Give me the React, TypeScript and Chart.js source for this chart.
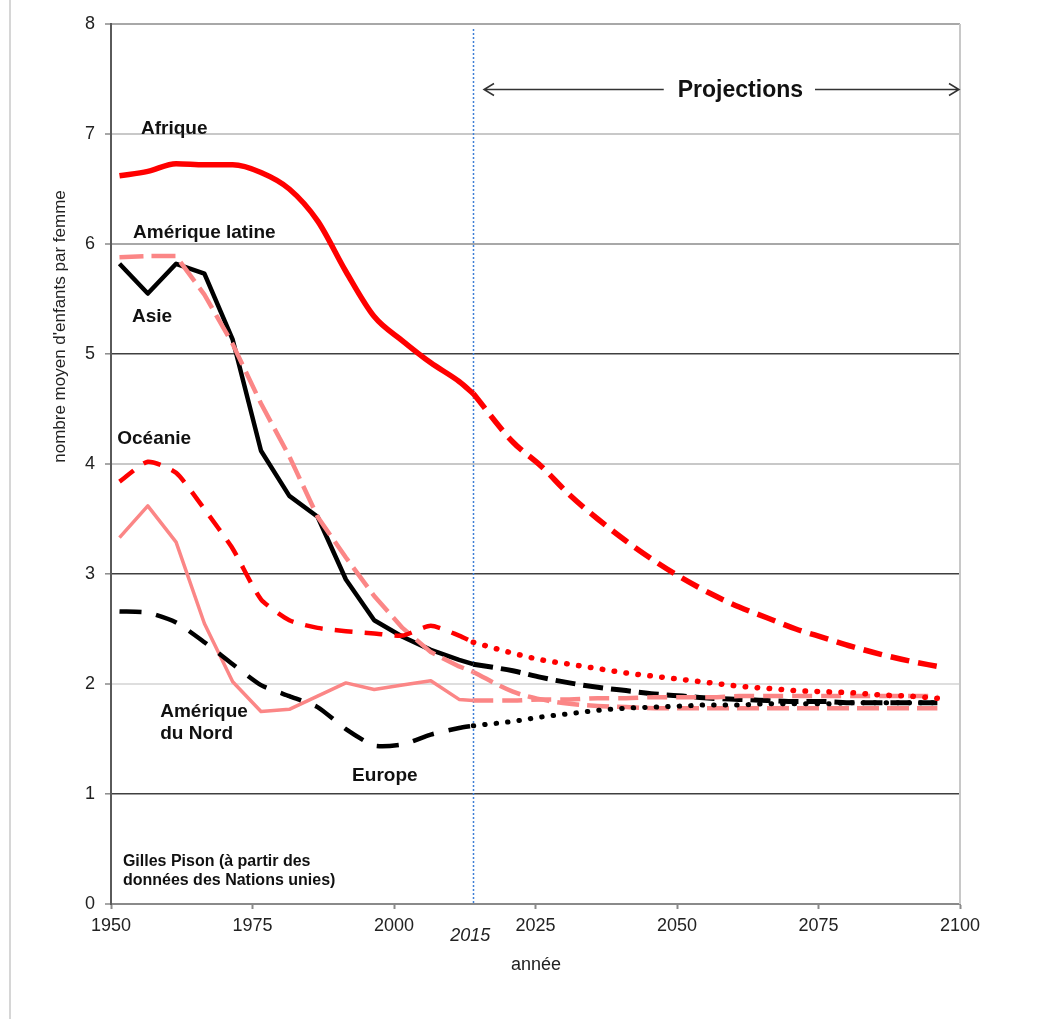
import React, { useEffect, useRef } from "react";
import { Chart, registerables } from "chart.js";

Chart.register(...registerables);

// ---- Data (total fertility rate, children per woman) ----
const histYears = [1951.5, 1956.5, 1961.5, 1966.5, 1971.5, 1976.5, 1981.5, 1986.5, 1991.5, 1996.5, 2001.5, 2006.5, 2011.5, 2014];
const projYears = [2014, 2021, 2026, 2031, 2036, 2041, 2046, 2051, 2056, 2061, 2066, 2071, 2076, 2081, 2086, 2091, 2096];

const afriqueHist = [6.62, 6.66, 6.73, 6.72, 6.72, 6.65, 6.5, 6.21, 5.75, 5.34, 5.12, 4.92, 4.75, 4.64];
const afriqueProj = [4.64, 4.2, 3.98, 3.72, 3.5, 3.3, 3.12, 2.96, 2.82, 2.7, 2.6, 2.5, 2.42, 2.34, 2.27, 2.21, 2.16];

const latamHist = [5.88, 5.89, 5.89, 5.54, 5.09, 4.55, 4.07, 3.52, 3.15, 2.8, 2.51, 2.29, 2.16, 2.11];
const latamProj = [2.11, 1.93, 1.86, 1.82, 1.8, 1.79, 1.78, 1.78, 1.78, 1.78, 1.78, 1.78, 1.78, 1.78, 1.78, 1.78, 1.78];

const asieHist = [5.82, 5.55, 5.82, 5.73, 5.13, 4.12, 3.71, 3.52, 2.95, 2.58, 2.43, 2.31, 2.22, 2.18];
const asieProj = [2.18, 2.12, 2.06, 2.01, 1.97, 1.94, 1.91, 1.89, 1.87, 1.86, 1.85, 1.84, 1.84, 1.83, 1.83, 1.83, 1.83];

const oceanieHist = [3.84, 4.02, 3.92, 3.59, 3.23, 2.77, 2.58, 2.51, 2.48, 2.46, 2.44, 2.53, 2.44, 2.38];
const oceanieProj = [2.38, 2.28, 2.22, 2.18, 2.14, 2.1, 2.07, 2.04, 2.01, 1.98, 1.96, 1.94, 1.93, 1.92, 1.9, 1.89, 1.87];

const nordHist = [3.33, 3.62, 3.29, 2.55, 2.02, 1.75, 1.77, 1.89, 2.01, 1.95, 1.99, 2.03, 1.86, 1.85];
const nordProj = [1.85, 1.85, 1.86, 1.86, 1.87, 1.87, 1.88, 1.88, 1.88, 1.89, 1.89, 1.89, 1.89, 1.89, 1.89, 1.89, 1.89];

const europeHist = [2.66, 2.65, 2.56, 2.38, 2.18, 1.99, 1.89, 1.79, 1.59, 1.44, 1.45, 1.54, 1.6, 1.62];
const europeProj = [1.62, 1.66, 1.7, 1.73, 1.76, 1.78, 1.79, 1.8, 1.81, 1.81, 1.82, 1.82, 1.82, 1.83, 1.83, 1.83, 1.83];

const xTickYears = [1950, 1975, 2000, 2025, 2050, 2075, 2100];
const yTickValues = [0, 1, 2, 3, 4, 5, 6, 7, 8];
const dividerYear = 2014;
const dividerLabel = "2015";

// ---- Text annotations (placed in data coordinates) ----
const regionLabels = [
  { text: "Afrique", x: 1955.3, y: 7.05 },
  { text: "Amérique latine", x: 1953.9, y: 6.1 },
  { text: "Asie", x: 1953.7, y: 5.34 },
  { text: "Océanie", x: 1951.1, y: 4.23 },
  { text: "Amérique", x: 1958.7, y: 1.75 },
  { text: "du Nord", x: 1958.7, y: 1.55 },
  { text: "Europe", x: 1992.6, y: 1.17 },
];
const sourceLines = ["Gilles Pison (à partir des", "données des Nations unies)"];

const FONT = "'Liberation Sans', Arial, Helvetica, sans-serif";
const RED = "#ff0000";
const PINK = "#fb8686";
const BLACK = "#000000";

const pts = (xs: number[], ys: number[]) => xs.map((x, i) => ({ x, y: ys[i] }));

export default function App() {
  const ref = useRef<HTMLCanvasElement>(null);

  useEffect(() => {
    if (!ref.current) return;

    const overlay = {
      id: "overlay",
      beforeDatasetsDraw(chart: any) {
        const { ctx, chartArea: a, scales } = chart;
        const xs = scales.x;
        ctx.save();
        // right border of plot area
        ctx.strokeStyle = "#c8c8c8";
        ctx.lineWidth = 2;
        ctx.beginPath();
        ctx.moveTo(a.right, a.top);
        ctx.lineTo(a.right, a.bottom);
        ctx.stroke();
        // 2015 divider (blue dotted)
        const px = Math.round(xs.getPixelForValue(dividerYear)) + 0.5;
        ctx.strokeStyle = "#3f7fd6";
        ctx.lineWidth = 1.5;
        ctx.setLineDash([2, 2]);
        ctx.beginPath();
        ctx.moveTo(px, a.top + 5);
        ctx.lineTo(px, a.bottom);
        ctx.stroke();
        ctx.restore();
      },
      afterDraw(chart: any) {
        const { ctx, chartArea: a, scales } = chart;
        const xs = scales.x;
        const ys = scales.y;
        ctx.save();
        ctx.fillStyle = "#111";
        ctx.textBaseline = "middle";

        // region labels
        ctx.font = `bold 19px ${FONT}`;
        ctx.textAlign = "left";
        regionLabels.forEach((l) => {
          ctx.fillText(l.text, xs.getPixelForValue(l.x), ys.getPixelForValue(l.y));
        });

        // source
        ctx.font = `bold 16px ${FONT}`;
        ctx.fillText(sourceLines[0], xs.getPixelForValue(1952.1), ys.getPixelForValue(0.385));
        ctx.fillText(sourceLines[1], xs.getPixelForValue(1952.1), ys.getPixelForValue(0.215));

        // Projections arrow
        const py = Math.round(ys.getPixelForValue(7.405)) + 0.5;
        const cx = xs.getPixelForValue(2061.2);
        ctx.font = `bold 23px ${FONT}`;
        ctx.textAlign = "center";
        const w = ctx.measureText("Projections").width;
        ctx.fillText("Projections", cx, py + 1);
        const lx = xs.getPixelForValue(2015.9);
        const rx = xs.getPixelForValue(2100) - 1;
        ctx.strokeStyle = "#333";
        ctx.lineWidth = 1.5;
        ctx.beginPath();
        ctx.moveTo(lx, py);
        ctx.lineTo(cx - w / 2 - 14, py);
        ctx.moveTo(cx + w / 2 + 12, py);
        ctx.lineTo(rx, py);
        ctx.moveTo(lx + 10, py - 6);
        ctx.lineTo(lx, py);
        ctx.lineTo(lx + 10, py + 6);
        ctx.moveTo(rx - 10, py - 6);
        ctx.lineTo(rx, py);
        ctx.lineTo(rx - 10, py + 6);
        ctx.stroke();

        // 2015 label (italic)
        ctx.fillStyle = "#222";
        ctx.font = `italic 18px ${FONT}`;
        ctx.textAlign = "center";
        ctx.fillText(dividerLabel, xs.getPixelForValue(dividerYear) - 3, a.bottom + 32);

        // x title
        ctx.font = `18px ${FONT}`;
        ctx.fillText("année", xs.getPixelForValue(2025.1), a.bottom + 61);

        // y title
        ctx.save();
        ctx.translate(a.left - 51, ys.getPixelForValue(5.25));
        ctx.rotate(-Math.PI / 2);
        ctx.font = `17px ${FONT}`;
        ctx.fillText("nombre moyen d'enfants par femme", 0, 0);
        ctx.restore();

        ctx.restore();
      },
    };

    const gridColor = (v: number) => {
      if (v === 1 || v === 3 || v === 5) return "#404040";
      if (v === 6 || v === 8) return "#a8a8a8";
      if (v === 2) return "#dedede";
      if (v === 0) return "rgba(0,0,0,0)";
      return "#c8c8c8";
    };

    const chart = new Chart(ref.current, {
      type: "line",
      data: {
        datasets: [
          {
            label: "Europe (proj.)",
            data: pts(projYears, europeProj),
            borderColor: BLACK,
            borderWidth: 5,
            borderDash: [0.5, 11],
            borderCapStyle: "round",
            cubicInterpolationMode: "monotone",
          },
          {
            label: "Océanie (proj.)",
            data: pts(projYears, oceanieProj),
            borderColor: RED,
            borderWidth: 5.5,
            borderDash: [0.5, 11.5],
            borderCapStyle: "round",
            cubicInterpolationMode: "monotone",
          },
          {
            label: "Amérique du Nord (proj.)",
            data: pts(projYears, nordProj),
            borderColor: PINK,
            borderWidth: 4.5,
            borderDash: [20, 9],
            cubicInterpolationMode: "monotone",
          },
          {
            label: "Amérique latine (proj.)",
            data: pts(projYears, latamProj),
            borderColor: PINK,
            borderWidth: 4.5,
            borderDash: [22, 8],
            cubicInterpolationMode: "monotone",
          },
          {
            label: "Asie (proj.)",
            data: pts(projYears, asieProj),
            borderColor: BLACK,
            borderWidth: 5,
            borderDash: [20, 8],
            cubicInterpolationMode: "monotone",
          },
          {
            label: "Afrique (proj.)",
            data: pts(projYears, afriqueProj),
            borderColor: RED,
            borderWidth: 5.5,
            borderDash: [19, 9],
            cubicInterpolationMode: "monotone",
          },
          {
            label: "Europe",
            data: pts(histYears, europeHist),
            borderColor: BLACK,
            borderWidth: 4.5,
            borderDash: [22, 15],
            tension: 0.2,
          },
          {
            label: "Océanie",
            data: pts(histYears, oceanieHist),
            borderColor: RED,
            borderWidth: 4.5,
            borderDash: [18, 12],
            tension: 0.2,
          },
          {
            label: "Amérique du Nord",
            data: pts(histYears, nordHist),
            borderColor: PINK,
            borderWidth: 3.5,
            tension: 0,
          },
          {
            label: "Amérique latine",
            data: pts(histYears, latamHist),
            borderColor: PINK,
            borderWidth: 4.5,
            borderDash: [24, 8],
            tension: 0,
          },
          {
            label: "Asie",
            data: pts(histYears, asieHist),
            borderColor: BLACK,
            borderWidth: 4.5,
            tension: 0,
          },
          {
            label: "Afrique",
            data: pts(histYears, afriqueHist),
            borderColor: RED,
            borderWidth: 5.5,
            cubicInterpolationMode: "monotone",
          },
        ] as any,
      },
      options: {
        responsive: false,
        animation: false,
        devicePixelRatio: 1,
        layout: { padding: { top: 24, right: 99, bottom: 0, left: 0 } },
        elements: { point: { radius: 0, hoverRadius: 0 }, line: { borderJoinStyle: "round" } },
        plugins: { legend: { display: false }, tooltip: { enabled: false } },
        events: [],
        scales: {
          x: {
            type: "linear",
            min: xTickYears[0],
            max: xTickYears[xTickYears.length - 1],
            afterBuildTicks: (s: any) => {
              s.ticks = xTickYears.map((v) => ({ value: v }));
            },
            afterFit: (s: any) => {
              s.height = 115;
            },
            ticks: {
              callback: (v: any) => String(v),
              font: { family: FONT, size: 18 },
              color: "#222",
              padding: 6,
              maxRotation: 0,
              autoSkip: false,
            },
            grid: {
              drawOnChartArea: false,
              drawTicks: true,
              tickLength: 5,
              tickColor: "#8a8a8a",
              tickWidth: 2,
            },
            border: { display: true, color: "#8a8a8a", width: 2 },
          },
          y: {
            type: "linear",
            min: yTickValues[0],
            max: yTickValues[yTickValues.length - 1],
            afterBuildTicks: (s: any) => {
              s.ticks = yTickValues.map((v) => ({ value: v }));
            },
            afterFit: (s: any) => {
              s.width = 111;
            },
            ticks: {
              font: { family: FONT, size: 18 },
              color: "#222",
              padding: 10,
            },
            grid: {
              color: (c: any) => gridColor(c.tick?.value),
              lineWidth: (c: any) => {
                const v = c.tick?.value;
                return v === 1 || v === 3 || v === 5 ? 1.6 : 2;
              },
              tickColor: "#8a8a8a",
              tickLength: 6,
              tickWidth: 1.5,
            },
            border: { display: true, color: "#5a5a5a", width: 2 },
          },
        },
      },
      plugins: [overlay],
    } as any);

    return () => chart.destroy();
  }, []);

  return (
    <div style={{ position: "absolute", left: 0, top: 0, width: 1059, height: 1019, background: "#ffffff" }}>
      <div style={{ position: "absolute", left: 9, top: 0, width: 2, height: 1019, background: "#d6d6d6" }} />
      <canvas ref={ref} width={1059} height={1019} style={{ position: "absolute", left: 0, top: 0 }} />
    </div>
  );
}
